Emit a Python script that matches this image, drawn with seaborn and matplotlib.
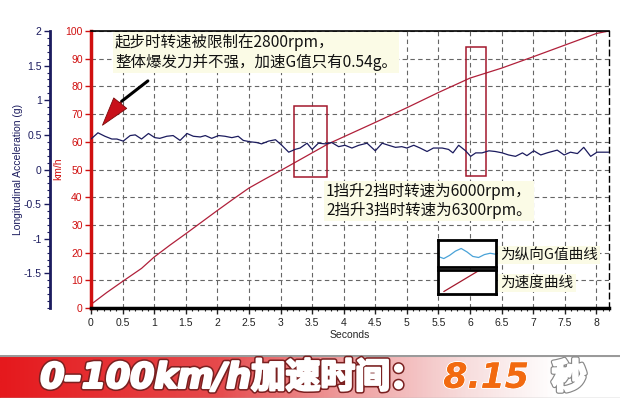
import numpy as np
import pandas as pd
import matplotlib
matplotlib.use("Agg")
import matplotlib.pyplot as plt
import matplotlib.patheffects as pe
from matplotlib.patches import Rectangle
from matplotlib.ticker import MultipleLocator
import seaborn as sns

# data
speed_time = [0, 0.25, 0.5, 0.8, 1.0, 1.25, 1.5, 1.75, 2.0, 2.25, 2.5, 2.75, 3.0,
              3.25, 3.5, 3.75, 4.0, 4.5, 5.0, 5.5, 6.0, 6.5, 7.0, 7.5, 8.0, 8.2]
speed_kmh = [1.3, 5.6, 9.6, 14.3, 18.4, 22.7, 26.8, 31.0, 35.2, 39.3, 43.3, 46.5, 49.6,
             52.8, 56.0, 59.2, 61.8, 67.0, 72.3, 77.8, 83.0, 86.6, 90.7, 94.9, 99.1, 100]

g_time = [0.00, 0.11, 0.22, 0.33, 0.41, 0.51, 0.62, 0.70, 0.80, 0.91, 1.01, 1.09, 1.20,
          1.30, 1.41, 1.52, 1.62, 1.73, 1.81, 1.91, 2.02, 2.12, 2.23, 2.33, 2.41, 2.52,
          2.62, 2.70, 2.81, 2.92, 3.02, 3.13, 3.23, 3.31, 3.42, 3.50, 3.60, 3.71, 3.81,
          3.92, 4.02, 4.13, 4.24, 4.37, 4.50, 4.61, 4.71, 4.82, 4.92, 5.00, 5.11, 5.21,
          5.32, 5.42, 5.56, 5.66, 5.73, 5.82, 5.93, 6.01, 6.09, 6.19, 6.30, 6.40, 6.51,
          6.61, 6.72, 6.83, 6.90, 7.01, 7.12, 7.22, 7.38, 7.49, 7.59, 7.70, 7.80, 7.91,
          8.01, 8.12, 8.20]
g_value = [0.44, 0.53, 0.48, 0.44, 0.44, 0.41, 0.49, 0.50, 0.44, 0.52, 0.46, 0.45, 0.48,
           0.49, 0.42, 0.52, 0.48, 0.47, 0.49, 0.45, 0.49, 0.48, 0.46, 0.48, 0.42, 0.40,
           0.39, 0.37, 0.41, 0.43, 0.35, 0.25, 0.29, 0.31, 0.38, 0.29, 0.38, 0.37, 0.39,
           0.33, 0.35, 0.31, 0.35, 0.38, 0.27, 0.38, 0.35, 0.32, 0.33, 0.31, 0.35, 0.31,
           0.26, 0.31, 0.31, 0.29, 0.24, 0.35, 0.27, 0.19, 0.24, 0.24, 0.27, 0.26, 0.24,
           0.21, 0.19, 0.24, 0.20, 0.27, 0.21, 0.24, 0.28, 0.21, 0.25, 0.23, 0.32, 0.19,
           0.25, 0.25, 0.25]

# shift windows (seconds, km/h)
shift_t0 = [3.22, 5.94]
shift_t1 = [3.73, 6.26]
shift_v0 = [47.3, 47.7]
shift_v1 = [72.9, 94.2]

x_ticks = np.arange(0, 8.01, 0.5)
x_labels = ["0", "0.5", "1", "1.5", "2", "2.5", "3", "3.5", "4", "4.5", "5", "5.5",
            "6", "6.5", "7", "7.5", "8"]
g_ticks = [-1.5, -1, -0.5, 0, 0.5, 1, 1.5, 2]
g_labels = ["-1.5", "-1", "-0.5", "0", "0.5", "1", "1.5", "2"]

note1 = "起步时转速被限制在2800rpm，\n整体爆发力并不强，加速G值只有0.54g。"
note2 = "1挡升2挡时转速为6000rpm，\n2挡升3挡时转速为6300rpm。"

sns.set_theme(style="white")
plt.rcParams["font.family"] = ["Liberation Sans", "DejaVu Sans"]
cjk = ["Noto Sans CJK SC", "DejaVu Sans"]

speed_df = pd.DataFrame({"t": speed_time, "v": speed_kmh})
g_df = pd.DataFrame({"t": g_time, "g": g_value})

RED = "#d01010"
NAVY = "#1b1b5e"

fig = plt.figure(figsize=(6.2, 4.0), dpi=100)
ax = fig.add_axes([91 / 620, 92 / 400, 518 / 620, 277 / 400])

sns.lineplot(data=speed_df, x="t", y="v", ax=ax, color="#b0203a", lw=0.9)
ax.set_xlim(0, 8.2)
ax.set_ylim(0, 100)
ax.set_xticks(x_ticks)
ax.set_xticklabels(x_labels)
ax.xaxis.set_minor_locator(MultipleLocator(0.1))
ax.set_yticks(range(0, 101, 10))
ax.grid(True, which="major", ls=(0, (4, 3)), color="#666666", lw=0.8)
ax.set_xlabel("Seconds", fontsize=7.5, labelpad=2)
ax.set_ylabel("")
ax.tick_params(axis="x", which="major", bottom=True, length=4, width=1, labelsize=7.5,
               colors="#222222", pad=3)
ax.tick_params(axis="x", which="minor", bottom=True, length=2, width=0.8, colors="#222222")
ax.tick_params(axis="y", left=True, length=4, width=1, labelsize=7.5, colors=RED, pad=2)
ax.spines["left"].set_color(RED)
ax.spines["left"].set_linewidth(2.5)
ax.spines["bottom"].set_color("black")
ax.spines["bottom"].set_linewidth(2.5)
ax.spines["top"].set_color("black")
ax.spines["top"].set_linewidth(1.2)
ax.spines["right"].set_color("black")
ax.spines["right"].set_linestyle((0, (4, 3)))
ax.spines["right"].set_linewidth(1)

for t0, t1, v0, v1 in zip(shift_t0, shift_t1, shift_v0, shift_v1):
    ax.add_patch(Rectangle((t0, v0), t1 - t0, v1 - v0, fill=False,
                           ec="#a3182c", lw=1.1, zorder=5))

# acceleration axis on the far left
ax2 = ax.twinx()
sns.lineplot(data=g_df, x="t", y="g", ax=ax2, color=NAVY, lw=0.9)
ax2.set_ylim(-2, 2)
ax2.set_xlim(0, 8.2)
ax2.yaxis.set_ticks_position("left")
ax2.yaxis.set_label_position("left")
ax2.spines["left"].set_position(("axes", -41 / 518))
ax2.spines["left"].set_color(NAVY)
ax2.spines["left"].set_linewidth(2)
for s in ["right", "top", "bottom"]:
    ax2.spines[s].set_visible(False)
ax2.set_yticks(g_ticks)
ax2.set_yticklabels(g_labels)
ax2.yaxis.set_minor_locator(MultipleLocator(0.1))
ax2.tick_params(axis="y", which="major", left=True, right=False, length=4, width=1,
                labelsize=7.5, colors=NAVY, pad=2)
ax2.tick_params(axis="y", which="minor", left=True, right=False, length=2, width=0.8,
                colors=NAVY)
ax2.set_ylabel("")
ax2.grid(False)

fig.text(18 / 620, 1 - 169 / 400, "Longitudinal Acceleration (g)", rotation=90,
         ha="center", va="center", fontsize=7.5, color=NAVY)
fig.text(58 / 620, 1 - 169 / 400, "km/h", rotation=90, ha="center", va="center",
         fontsize=7.5, color=RED)

# notes
note_box = dict(boxstyle="square,pad=0.15", fc="#fbfbe6", ec="none")
ax2.text(0.38, 92.3, note1, transform=ax.transData, family=cjk, fontsize=11.2,
         ha="left", va="center", linespacing=1.15, bbox=note_box, zorder=6, color="#111111")
ax2.text(3.72, 38.6, note2, transform=ax.transData, family=cjk, fontsize=11.2,
         ha="left", va="center", linespacing=1.15, bbox=note_box, zorder=6, color="#111111")

# arrow: black shaft, red head
ax2.annotate("", xy=(0.45, 74.0), xytext=(0.935, 82.6), xycoords=ax.transData,
             textcoords=ax.transData,
             arrowprops=dict(arrowstyle="-", color="black", lw=2.2))
ax2.annotate("", xy=(0.154, 65.2), xytext=(0.50, 75.0), xycoords=ax.transData,
             textcoords=ax.transData,
             arrowprops=dict(arrowstyle="simple,head_length=1.7,head_width=1.0,tail_width=0.1",
                             fc="#c8101a", ec="#7a0a0a", lw=0.6))

# legend boxes
leg1 = fig.add_axes([438 / 620, 1 - 266.5 / 400, 58 / 620, 26.5 / 400])
leg2 = fig.add_axes([438 / 620, 1 - 294 / 400, 58 / 620, 24.5 / 400])
wave_x = [0, 0.1, 0.2, 0.3, 0.4, 0.5, 0.6, 0.7, 0.8, 0.9, 1.0]
wave_y = [0.38, 0.30, 0.42, 0.58, 0.68, 0.55, 0.38, 0.34, 0.45, 0.50, 0.46]
leg1.plot(wave_x, wave_y, color="#4aa3d8", lw=0.9)
leg2.plot([0.1, 0.7], [0.1, 0.95], color="#a3182c", lw=0.9)
for lg in (leg1, leg2):
    lg.set_xlim(0, 1)
    lg.set_ylim(0, 1)
    lg.set_xticks([])
    lg.set_yticks([])
    lg.set_facecolor("white")
    for s in lg.spines.values():
        s.set_visible(True)
        s.set_color("black")
        s.set_linewidth(2)
ax2.text(6.48, 19.1, "为纵向G值曲线", transform=ax.transData, family=cjk, fontsize=10.5,
         ha="left", va="center", bbox=note_box, zorder=6, color="#111111")
ax2.text(6.48, 9.0, "为速度曲线", transform=ax.transData, family=cjk, fontsize=10.5,
         ha="left", va="center", bbox=note_box, zorder=6, color="#111111")

# bottom banner
ban = fig.add_axes([0, 2 / 400, 1, 43 / 400])
grad = np.linspace(0, 1, 400)
cmap = matplotlib.colors.LinearSegmentedColormap.from_list(
    "ban", [(0, "#e5191d"), (0.35, "#e64a4c"), (0.55, "#ee9a9b"),
            (0.75, "#f7dcdc"), (0.9, "#ffffff"), (1, "#ffffff")])
ban.imshow(np.vstack([grad, grad]), aspect="auto", cmap=cmap, extent=[0, 1, 0, 1])
ban.axhline(0.985, color="#9a9a9a", lw=1.5)
ban.axhline(0.01, color="#b0b0b0", lw=1)
ban.set_xlim(0, 1)
ban.set_ylim(0, 1)
ban.axis("off")

shadow = [pe.SimplePatchShadow(offset=(1.5, -1.5), shadow_rgbFace="#444444", alpha=0.5),
          pe.withStroke(linewidth=4, foreground="#7a2020"),
          pe.withStroke(linewidth=1.8, foreground="white"),
          pe.Normal()]
ban.text(0.065, 0.47, "0–100km/h加速时间：",
         family=["DejaVu Sans", "Noto Sans CJK SC"], fontsize=25, weight="bold",
         style="italic", color="white", ha="left", va="center", path_effects=shadow)
ban.text(0.715, 0.47, "8.15", family=["DejaVu Sans"], fontsize=25, weight="bold",
         style="italic", color="#f26a10", ha="left", va="center",
         path_effects=[pe.withStroke(linewidth=1.5, foreground="#ffffff"), pe.Normal()])
ban.text(0.89, 0.47, "秒", family=["Noto Sans CJK SC", "DejaVu Sans"], fontsize=25,
         weight="bold", color="white", ha="left", va="center",
         path_effects=[pe.withStroke(linewidth=3.5, foreground="#888888"),
                       pe.withStroke(linewidth=1.8, foreground="white"), pe.Normal()])

fig.savefig("out.png", dpi=100)
